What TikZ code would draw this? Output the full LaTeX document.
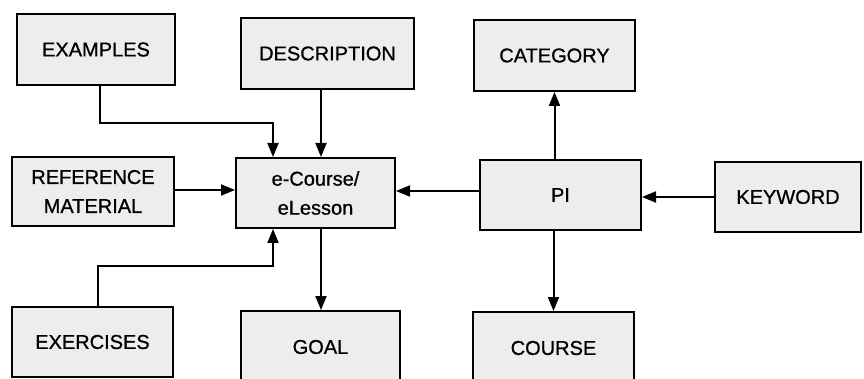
\documentclass[tikz,border=0pt]{standalone}
\usepackage{fontspec}
\setmainfont{Liberation Sans}
\newfontfamily\scanfont[FakeBold=0.8]{Liberation Sans}
\usetikzlibrary{arrows.meta}
\begin{document}
\begin{tikzpicture}[x=1pt,y=-1pt,
  box/.style={draw, line width=2pt, fill=gray!14, inner sep=0pt, align=center,
    font=\scanfont\fontsize{20}{29}\selectfont},
  arr/.style={line width=2pt, -{Triangle[length=14pt,width=11pt]}}]
\useasboundingbox (0,0) rectangle (864,379);
\fill[white] (0,0) rectangle (864,379);
\node[box, minimum width=158pt, minimum height=71pt] (ex) at (96,49.5) {EXAMPLES};
\node[box, minimum width=173pt, minimum height=71pt] (desc) at (327.5,53.5) {DESCRIPTION};
\node[box, minimum width=161pt, minimum height=71pt] (cat) at (554.5,55.5) {CATEGORY};
\node[box, minimum width=162pt, minimum height=69pt] (ref) at (93,191.5) {REFERENCE\\MATERIAL};
\node[box, minimum width=159pt, minimum height=70pt] (ec) at (315.5,193) {e-Course/\\eLesson};
\node[box, minimum width=161pt, minimum height=70pt] (pi) at (560.5,195) {PI};
\node[box, minimum width=146pt, minimum height=70pt] (kw) at (788,197) {KEYWORD};
\node[box, minimum width=161pt, minimum height=70pt] (exe) at (92.5,342) {EXERCISES};
\node[box, minimum width=159pt, minimum height=72pt] (goal) at (320.5,347) {GOAL};
\node[box, minimum width=161pt, minimum height=72pt] (course) at (553.5,348) {COURSE};
\coordinate (dx) at (321,0);
\coordinate (j1) at (273,123);
\coordinate (j2) at (273,266);
\coordinate (y1) at (0,190);
\coordinate (y2) at (0,191);
\draw[arr] ([xshift=4pt]ex.south) |- (j1) -- (j1 |- ec.north);
\draw[arr] (desc.south -| dx) -- (ec.north -| dx);
\draw[arr] (ref.east |- y1) -- (ec.west |- y1);
\draw[arr] (pi.west |- y2) -- (ec.east |- y2);
\draw[arr] (kw.west) -- (kw.west -| pi.east);
\draw[arr] (pi.north -| cat.south) -- (cat.south);
\draw[arr] (pi.south -| course.north) -- (course.north);
\draw[arr] (ec.south -| dx) -- (goal.north -| dx);
\draw[arr] ([xshift=5.5pt]exe.north) |- (j2) -- (j2 |- ec.south);
\end{tikzpicture}
\end{document}
